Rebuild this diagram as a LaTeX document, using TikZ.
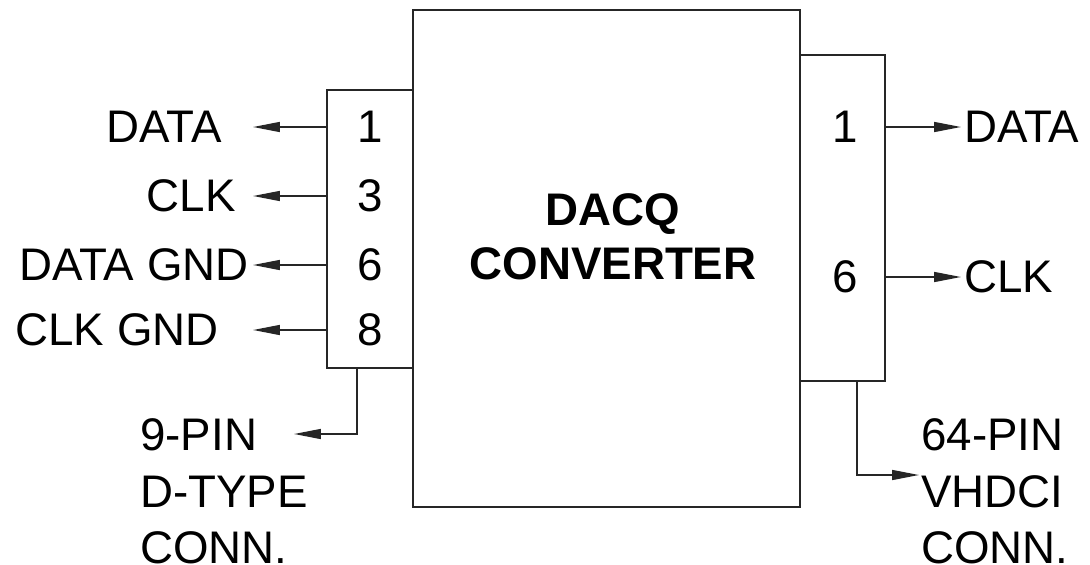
\documentclass[tikz,border=0pt]{standalone}
\usepackage{fontspec}
\setmainfont{Liberation Sans}
\usetikzlibrary{arrows.meta,positioning}

\begin{document}
\begin{tikzpicture}[x=0.02cm,y=-0.02cm,
  txt/.style={font=\fontsize{26}{32.3}\selectfont,inner sep=0pt},
  box/.style={draw=black!85,line width=1pt,inner sep=0pt},
  sig/.style={draw=black!85,line width=0.9pt,-{Triangle[length=5.4mm,width=2mm]}}]
\useasboundingbox (0,0) rectangle (1090,565);

% boxes
\node[box,minimum width=7.74cm,minimum height=9.94cm] (dacq) at (606.5,258.5) {};
\node[box,minimum width=1.72cm,minimum height=5.56cm] (lconn) at (370,229) {};
\node[box,minimum width=1.7cm,minimum height=6.52cm] (rconn) at (842.5,218) {};
\node[txt,font=\fontsize{26}{31}\bfseries,align=center] (title) at (613,237) {DACQ\\CONVERTER};

% pin numbers
\node[txt] (lp1) at (370,127) {1};
\node[txt] (lp3) at (370,196) {3};
\node[txt] (lp6) at (370,265) {6};
\node[txt] (lp8) at (370,330) {8};
\node[txt] (rp1) at (845,127) {1};
\node[txt] (rp6) at (845,277) {6};

% signal names
\node[txt,anchor=east] (ldata) at (222,127) {DATA};
\node[txt,anchor=east] (lclk) at (236,196) {CLK};
\node[txt,anchor=east] (ldgnd) at (249,265) {DATA GND};
\node[txt,anchor=east] (lcgnd) at (219,330) {CLK GND};
\node[txt,anchor=west] (rdata) at (964,127) {DATA};
\node[txt,anchor=west] (rclk) at (964,277) {CLK};
\node[txt,anchor=north west,align=left] (dsub) at (140,418) {9-PIN\\D-TYPE\\CONN.};
\node[txt,anchor=north west,align=left] (vhdci) at (921,418) {64-PIN\\VHDCI\\CONN.};

\coordinate (ltip) at (253,0);
\coordinate (rtip) at (961,0);
\coordinate (ltap) at (357,434);
\coordinate (rtap) at (857,475);

\draw[sig] (lp1 -| lconn.west) -- (lp1 -| ltip);
\draw[sig] (lp3 -| lconn.west) -- (lp3 -| ltip);
\draw[sig] (lp6 -| lconn.west) -- (lp6 -| ltip);
\draw[sig] (lp8 -| lconn.west) -- (lp8 -| ltip);
\draw[sig] (rp1 -| rconn.east) -- (rp1 -| rtip);
\draw[sig] (rp6 -| rconn.east) -- (rp6 -| rtip);

% cable taps
\draw[sig] (ltap |- lconn.south) -- (ltap) -- ++(-63,0);
\draw[sig] (rtap |- rconn.south) -- (rtap) -- ++(62,0);
\end{tikzpicture}
\end{document}
